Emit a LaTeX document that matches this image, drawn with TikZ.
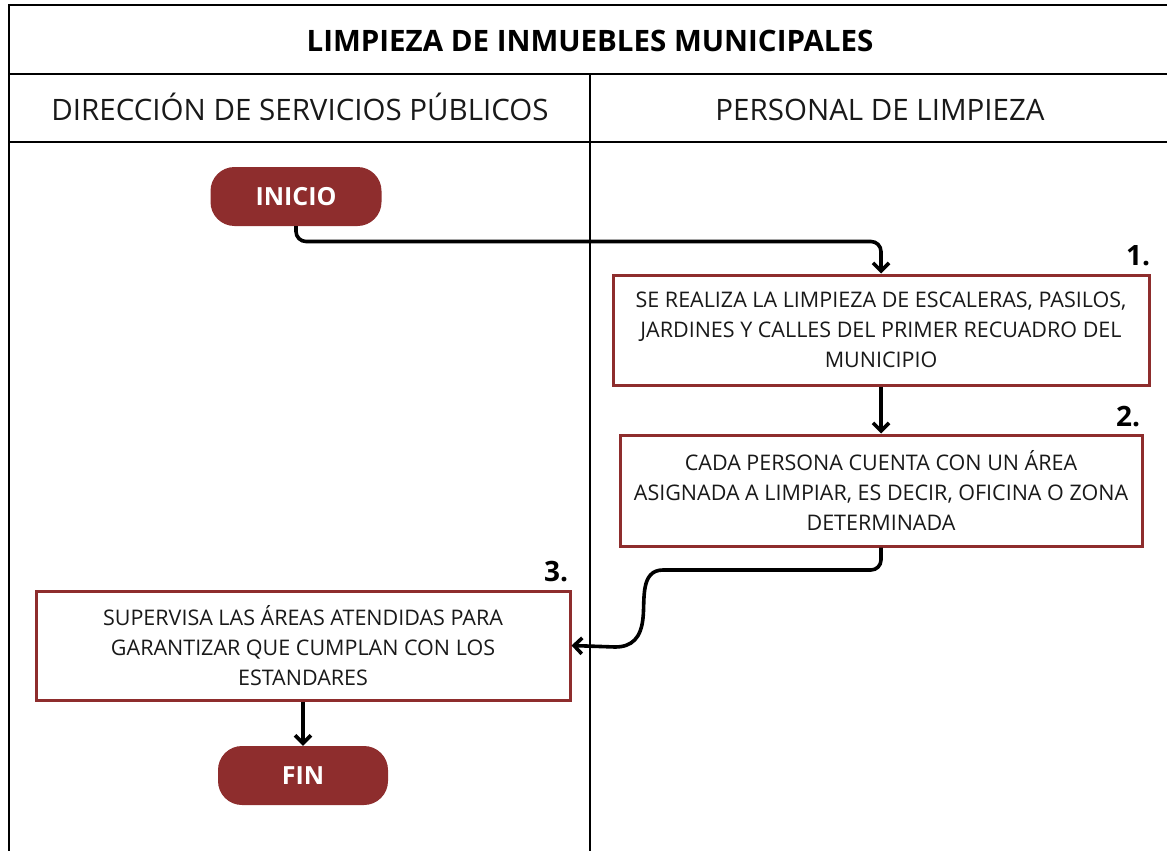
\documentclass[tikz,border=0pt]{standalone}
\usepackage{fontspec}
\setmainfont{Open Sans}
\usetikzlibrary{arrows.meta,calc}
\definecolor{vino}{RGB}{142,45,45}
\tikzset{
  frame/.style={line width=2pt, black},
  procbox/.style={draw=vino, line width=3pt, fill=white, align=center, inner sep=0pt,
     font=\fontsize{21.5}{30}\selectfont, text=black!90},
  pill/.style={fill=vino, rounded corners=24pt, text=white, inner sep=0pt,
     font=\fontsize{25}{28}\selectfont\bfseries},
  conn/.style={line width=3.6pt, black, -{Straight Barb[length=8pt,width=16pt,line width=3.6pt]}},
  lane/.style={font=\fontsize{29.5}{32}\selectfont, text=black!90, anchor=base},
  stepnum/.style={font=\fontsize{28}{30}\selectfont\bfseries}
}
\begin{document}
\begin{tikzpicture}[x=1pt,y=-1pt]
\useasboundingbox (0,0) rectangle (1167,851);
% frame
\draw[frame] (1167,5) -- (9,5) -- (9,851);
\draw[frame] (9,74) -- (1167,74);
\draw[frame] (9,142) -- (1167,142);
\draw[frame] (590,74) -- (590,851);
\node[font=\fontsize{29.5}{32}\selectfont\bfseries] (title) at (590,41) {LIMPIEZA DE INMUEBLES MUNICIPALES};
\node[lane] (lane1) at (300,120) {DIRECCIÓN DE SERVICIOS PÚBLICOS};
\node[lane] (lane2) at (880,120) {PERSONAL DE LIMPIEZA};
% nodes
\node[pill, minimum width=171pt, minimum height=59pt] (inicio) at (296,196.5) {INICIO};
\node[procbox, minimum width=536pt, minimum height=110pt] (b1) at (881,330) {SE REALIZA LA LIMPIEZA DE ESCALERAS, PASILOS,\\JARDINES Y CALLES DEL PRIMER RECUADRO DEL\\MUNICIPIO};
\node[procbox, minimum width=522pt, minimum height=111pt] (b2) at (881,490.5) {CADA PERSONA CUENTA CON UN ÁREA\\ASIGNADA A LIMPIAR, ES DECIR, OFICINA O ZONA\\DETERMINADA};
\node[procbox, minimum width=534pt, minimum height=109pt] (b3) at (303,645.5) {SUPERVISA LAS ÁREAS ATENDIDAS PARA\\GARANTIZAR QUE CUMPLAN CON LOS\\ESTANDARES};
\node[pill, minimum width=170pt, minimum height=59pt] (fin) at (303,775.5) {FIN};
\node[stepnum] (n1) at (1138,256) {1.};
\node[stepnum] (n2) at (1128,417) {2.};
\node[stepnum] (n3) at (556,572) {3.};
% connectors
\draw[conn, rounded corners=10pt] (inicio.south) |- ($(b1.north)+(0,-32)$) -- (b1.north);
\draw[conn] (b1.south) -- (b2.north);
\coordinate (c1) at (673,570);
\coordinate (c2) at (615,647);
\draw[conn] (b2.south) [rounded corners=10pt] |- (c1) [sharp corners]
  .. controls (640,570) and (645,600) .. (643,618)
  .. controls (641,638) and (632,647) .. (c2) -- (b3.east);
\draw[conn] (b3.south) -- (fin.north);
\end{tikzpicture}
\end{document}
